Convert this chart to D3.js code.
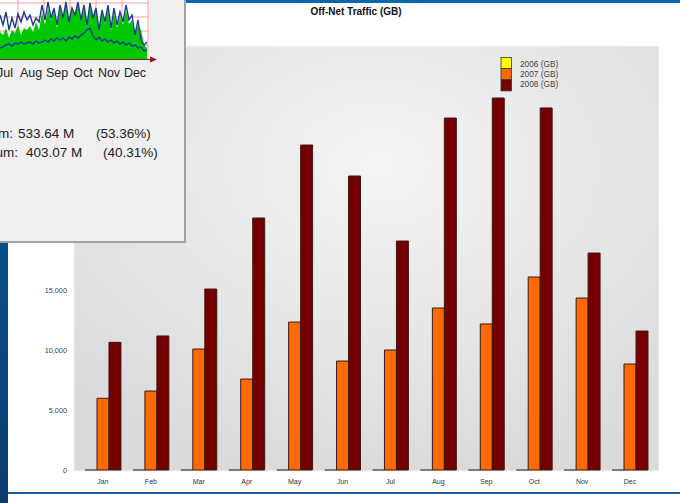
<!DOCTYPE html>
<html>
<head>
<meta charset="utf-8">
<script src="https://cdn.jsdelivr.net/npm/d3@7"></script>
<style>
  body { margin: 0; background: #fff; }
  svg { display: block; }
</style>
</head>
<body>
<svg id="slide" width="680" height="503"></svg>
<script>
// ---- Off-Net traffic per month (GB) ----
const months = ["Jan","Feb","Mar","Apr","May","Jun","Jul","Aug","Sep","Oct","Nov","Dec"];
const years = ["2006","2007","2008"];
const traffic2006 = [0,0,0,0,0,0,0,0,0,0,0,0];
const traffic2007 = [5975,6580,10080,7580,12330,9080,10000,13500,12170,16080,14330,8830];
const traffic2008 = [10640,11170,15080,21000,27080,24500,19080,29330,31000,30170,18080,11580];
const yTicks = [0,5000,10000,15000,20000,25000,30000,35000];
const legendLabels = ["2006 (GB)","2007 (GB)","2008 (GB)"];
const yearColors = ["#ffff00","#ff6a00","#760000"];

// ---- daily link throughput (M) shown in the monitor window ----
const monitorMonths = ["Jul","Aug","Sep","Oct","Nov","Dec"];
const dailyTotal = [270,240,310,210,290,260,340,240,310,290,330,270,370,290,470,340,510,390,490,310,510,410,540,370,490,440,550,390,510,340,530,410,490,290,470,350,510,290,470,310,430,340,490,350,390,230,340,290,140,110];
const dailyPeak = [440,340,470,290,410,310,450,370,470,390,440,340,410,370,540,390,570,410,510,340,540,410,570,370,510,440,570,390,540,340,560,410,510,290,490,370,540,310,510,340,470,370,540,390,440,240,390,190,140,170];
const dailyMin = [110,120,140,150,130,160,150,170,150,160,170,150,180,160,170,190,170,200,180,210,190,210,180,220,200,230,210,240,260,290,310,230,190,220,180,200,170,190,160,180,150,170,140,160,130,140,110,120,80,90];
const statLines = [
  { label: "Maximum:", value: "533.64 M", pct: "(53.36%)" },
  { label: "Minimum:", value: "403.07 M", pct: "(40.31%)" }
];

const svg = d3.select("#slide");
const defs = svg.append("defs");

// slide frame
const sideGrad = defs.append("linearGradient").attr("id","sideGrad")
  .attr("x1",0).attr("y1",0).attr("x2",0).attr("y2",1);
sideGrad.append("stop").attr("offset","0%").attr("stop-color","#0b5ea3");
sideGrad.append("stop").attr("offset","100%").attr("stop-color","#093d6f");

svg.append("rect").attr("x",0).attr("y",0).attr("width",680).attr("height",3).attr("fill","#0b66ae");
svg.append("rect").attr("x",0).attr("y",0).attr("width",8).attr("height",503).attr("fill","url(#sideGrad)");
svg.append("rect").attr("x",8).attr("y",492).attr("width",672).attr("height",2).attr("fill","#1d5d9c");

// ---- main chart ----
const plot = { left: 74, right: 659, top: 46, bottom: 471 };
const y = d3.scaleLinear().domain([0, 35000]).range([470, 50]);
const x = d3.scaleBand().domain(months).range([plot.left, plot.right])
  .paddingInner(0.25).paddingOuter(0.23);
const xSub = d3.scaleBand().domain(years).range([0, x.bandwidth()]);

const bgGrad = defs.append("radialGradient").attr("id","plotGrad")
  .attr("cx","52%").attr("cy","28%").attr("r","75%");
bgGrad.append("stop").attr("offset","0%").attr("stop-color","#f4f4f4");
bgGrad.append("stop").attr("offset","100%").attr("stop-color","#dadada");

svg.append("rect")
  .attr("x", plot.left).attr("y", plot.top)
  .attr("width", plot.right - plot.left).attr("height", plot.bottom - plot.top)
  .attr("fill","url(#plotGrad)")
  .attr("stroke","#f6f6f6").attr("stroke-width",1);

svg.append("text")
  .attr("x", 356).attr("y", 15)
  .attr("text-anchor","middle")
  .attr("font-family","'Liberation Sans', Arial, sans-serif")
  .attr("font-weight","bold").attr("font-size",10)
  .attr("fill","#111")
  .text("Off-Net Traffic (GB)");

// y tick labels
svg.append("g").selectAll("text").data(yTicks).join("text")
  .attr("x", 67).attr("y", d => y(d) + 2.5)
  .attr("text-anchor","end")
  .attr("font-family","'Liberation Sans', Arial, sans-serif")
  .attr("font-size",7.3).attr("fill","#444")
  .text(d => d3.format(",")(d));

// month labels
svg.append("g").selectAll("text").data(months).join("text")
  .attr("x", d => x(d) + x.bandwidth()/2).attr("y", 484)
  .attr("text-anchor","middle")
  .attr("font-family","'Liberation Sans', Arial, sans-serif")
  .attr("font-size",7).attr("fill","#333")
  .text(d => d);

// bars
const seriesValues = [traffic2006, traffic2007, traffic2008];
const barData = [];
months.forEach((m, i) => years.forEach((yr, j) => barData.push({ m, yr, j, v: seriesValues[j][i] })));
const bars = svg.append("g");
bars.selectAll("path").data(barData).join("path")
  .attr("d", d => {
    const x0 = x(d.m) + xSub(d.yr), w = xSub.bandwidth();
    const y0 = y(0), y1 = y(d.v);
    return `M${x0},${y0}V${y1}H${x0 + w}V${y0}Z`;
  })
  .attr("fill", d => yearColors[d.j])
  .attr("stroke", d => d.v === 0 ? "#5a5a5a" : "#3a1a14")
  .attr("stroke-width", d => d.v === 0 ? 1.5 : 1);

// legend
const legend = svg.append("g");
legendLabels.forEach((lab, i) => {
  legend.append("rect")
    .attr("x", 501).attr("y", 57.5 + i * 11.2)
    .attr("width", 10.5).attr("height", 11)
    .attr("fill", yearColors[i]).attr("stroke","#333").attr("stroke-width",0.8);
  legend.append("text")
    .attr("x", 520).attr("y", 66.5 + i * 10.4)
    .attr("font-family","'Liberation Sans', Arial, sans-serif")
    .attr("font-size",8.3).attr("fill","#444")
    .text(lab);
});

// ---- monitor window overlay ----
const win = svg.append("g");
win.append("rect").attr("x",0).attr("y",0).attr("width",184).attr("height",241).attr("fill","#efefef");
win.append("rect").attr("x",184).attr("y",0).attr("width",2).attr("height",243).attr("fill","#a2a2a2");
win.append("rect").attr("x",0).attr("y",241).attr("width",186).attr("height",2).attr("fill","#a2a2a2");

const mx = d3.scaleLinear().domain([0, dailyTotal.length - 1]).range([0, 147]);
const my = d3.scaleLinear().domain([0, 590]).range([59, 0]);

win.append("rect").attr("x",0).attr("y",0).attr("width",149).attr("height",59).attr("fill","#ffffff");

const gridX = [18,44,70,96,122,148];
const gridY = [3,17,31,45];
win.append("g").selectAll("line").data(gridY).join("line")
  .attr("x1",0).attr("x2",149).attr("y1",d=>d).attr("y2",d=>d)
  .attr("stroke","#f2a0a0").attr("stroke-width",1);
win.append("g").selectAll("line").data(gridX).join("line")
  .attr("x1",d=>d).attr("x2",d=>d).attr("y1",0).attr("y2",59)
  .attr("stroke","#f2a0a0").attr("stroke-width",1);

win.append("path").datum(dailyTotal)
  .attr("d", d3.area().x((d,i)=>mx(i)).y0(59).y1(d=>my(d)))
  .attr("fill","#00c800");

const line = d3.line().x((d,i)=>mx(i)).y(d=>my(d));
win.append("path").datum(dailyPeak).attr("d", line)
  .attr("fill","none").attr("stroke","#1b3b8f").attr("stroke-width",1.4);
win.append("path").datum(dailyMin).attr("d", line)
  .attr("fill","none").attr("stroke","#1b3b8f").attr("stroke-width",1.4);

// time axis with arrow
win.append("line").attr("x1",0).attr("x2",151).attr("y1",59.5).attr("y2",59.5)
  .attr("stroke","#8a1a1a").attr("stroke-width",1);
win.append("path").attr("d","M150,56.5L157,59.5L150,62.5Z").attr("fill","#8a1a1a");

win.append("g").selectAll("text").data(monitorMonths).join("text")
  .attr("x",(d,i)=> gridX[0] - 13 + i * 26).attr("y",77)
  .attr("text-anchor","middle")
  .attr("font-family","'Liberation Sans', Arial, sans-serif")
  .attr("font-size",12.5).attr("fill","#222")
  .text(d=>d);

const stats = win.append("g")
  .attr("font-family","'Liberation Sans', Arial, sans-serif")
  .attr("font-size",13.5).attr("fill","#222");
const statPos = [
  { labelEnd: 13, valueX: 18, pctX: 96, yy: 138 },
  { labelEnd: 18, valueX: 26, pctX: 103, yy: 157 }
];
statLines.forEach((s, i) => {
  const p = statPos[i];
  stats.append("text").attr("x", p.labelEnd).attr("y", p.yy).attr("text-anchor","end").text(s.label);
  stats.append("text").attr("x", p.valueX).attr("y", p.yy).text(s.value);
  stats.append("text").attr("x", p.pctX).attr("y", p.yy).text(s.pct);
});
</script>
</body>
</html>
